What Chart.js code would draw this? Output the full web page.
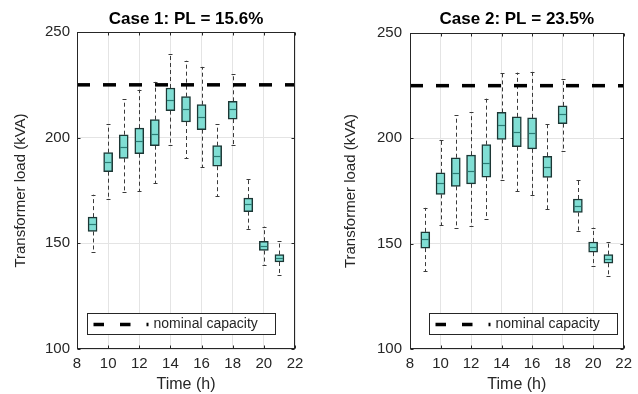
<!DOCTYPE html>
<html>
<head>
<meta charset="utf-8">
<script src="https://cdn.jsdelivr.net/npm/chart.js@4.4.1/dist/chart.umd.min.js"></script>
<style>
    html, body { margin: 0; padding: 0; background: #fff; }
    #wrap { position: relative; width: 638px; height: 394px; }
    .panel { position: absolute; top: 0; width: 319px; height: 394px; }
</style>
</head>
<body>
<div id="wrap">
    <div class="panel" style="left:0"><canvas id="case1" width="319" height="394"></canvas></div>
    <div class="panel" style="left:319px"><canvas id="case2" width="319" height="394"></canvas></div>
</div>
<script>
// hours of the day, one box per hour
const hours = [9, 10, 11, 12, 13, 14, 15, 16, 17, 18, 19, 20, 21];

// case 1 (PL = 15.6%)
const case1Min    = [146.1, 170.8, 174.1, 174.7, 178.5, 196.5, 190.3, 186.1, 172.2, 196.5, 156.9, 139.8, 135.0];
const case1Q1     = [155.6, 183.9, 190.2, 192.4, 196.2, 212.8, 207.4, 203.8, 186.5, 208.8, 165.0, 146.6, 141.2];
const case1Median = [159.3, 188.6, 195.5, 198.4, 201.9, 218.0, 213.4, 209.7, 191.4, 213.4, 168.4, 148.8, 143.0];
const case1Q3     = [162.4, 192.9, 201.4, 204.5, 208.5, 223.5, 219.4, 215.6, 196.2, 217.2, 171.4, 151.0, 144.7];
const case1Max    = [173.0, 206.3, 218.2, 222.7, 226.4, 239.5, 236.4, 233.5, 206.4, 230.0, 180.6, 157.9, 151.2];

// case 2 (PL = 23.5%)
const case2Min    = [137.0, 158.8, 157.6, 158.4, 161.9, 180.4, 174.8, 173.1, 166.4, 194.1, 155.9, 139.2, 134.6];
const case2Q1     = [147.9, 173.4, 177.2, 178.4, 181.6, 199.5, 196.0, 195.0, 181.5, 207.0, 164.8, 146.0, 140.7];
const case2Median = [152.1, 178.7, 183.5, 184.7, 188.2, 206.1, 202.9, 202.4, 186.6, 211.6, 168.0, 148.4, 142.9];
const case2Q3     = [155.6, 183.6, 190.8, 192.0, 197.0, 212.3, 210.2, 209.7, 191.5, 215.4, 171.2, 150.8, 144.8];
const case2Max    = [167.0, 199.0, 211.0, 212.3, 218.9, 231.2, 231.2, 231.7, 206.7, 228.3, 180.4, 157.6, 150.8];

const nominalCapacity = 225;
const xTickValues = [8, 10, 12, 14, 16, 18, 20, 22];
const yTickValues = [100, 150, 200, 250];

const FONT = '"Liberation Sans", Arial, Helvetica, sans-serif';
const BOX_FILL = "#80ded4";
const BOX_EDGE = "#1c3735";
const MEDIAN_COLOR = "#2a7d75";
const WHISKER_COLOR = "#3a3a3a";
const GRID_COLOR = "#e4e4e4";
const TEXT_COLOR = "#262626";

//whiskers behind the boxes, medians on top of them
var boxPlotPlugin = {
    id: "boxPlot",
    beforeDatasetsDraw: function(chart){
        let stats = chart.options.plugins.boxPlot;
        let ctx = chart.ctx;
        let xs = chart.scales.x, ys = chart.scales.y;
        ctx.save();
        ctx.strokeStyle = WHISKER_COLOR;
        ctx.lineWidth = 1;
        hours.forEach(function(h, i){
            let px = Math.round(xs.getPixelForValue(h)) + 0.5;
            ctx.setLineDash([4, 3]);
            ctx.beginPath();
            ctx.moveTo(px, ys.getPixelForValue(stats.q3[i]));
            ctx.lineTo(px, ys.getPixelForValue(stats.max[i]));
            ctx.moveTo(px, ys.getPixelForValue(stats.q1[i]));
            ctx.lineTo(px, ys.getPixelForValue(stats.min[i]));
            ctx.stroke();
            //caps
            ctx.setLineDash([]);
            ctx.beginPath();
            let top = Math.round(ys.getPixelForValue(stats.max[i])) + 0.5;
            let bot = Math.round(ys.getPixelForValue(stats.min[i])) + 0.5;
            ctx.moveTo(px - 2, top);
            ctx.lineTo(px + 2, top);
            ctx.moveTo(px - 2, bot);
            ctx.lineTo(px + 2, bot);
            ctx.stroke();
        });
        ctx.restore();
    },
    afterDatasetDraw: function(chart, args){
        if (args.index !== 0) return;
        let stats = chart.options.plugins.boxPlot;
        let ctx = chart.ctx;
        let xs = chart.scales.x, ys = chart.scales.y;
        ctx.save();
        ctx.strokeStyle = MEDIAN_COLOR;
        ctx.lineWidth = 1.2;
        hours.forEach(function(h, i){
            let px = xs.getPixelForValue(h);
            let py = Math.round(ys.getPixelForValue(stats.median[i])) + 0.5;
            ctx.beginPath();
            ctx.moveTo(px - 3.5, py);
            ctx.lineTo(px + 3.5, py);
            ctx.stroke();
        });
        ctx.restore();
    }
};

//box around the axes with small inward ticks, plus the legend box
var framePlugin = {
    id: "frame",
    afterDraw: function(chart){
        let ctx = chart.ctx;
        let a = chart.chartArea;
        let xs = chart.scales.x, ys = chart.scales.y;
        let l = Math.round(a.left) + 0.5, r = Math.round(a.right) - 0.5;
        let t = Math.round(a.top) + 0.5, b = Math.round(a.bottom) - 0.5;
        ctx.save();
        ctx.strokeStyle = "#262626";
        ctx.lineWidth = 1;
        ctx.strokeRect(l, t, r - l, b - t);
        ctx.beginPath();
        xTickValues.forEach(function(v){
            let px = Math.round(xs.getPixelForValue(v)) + 0.5;
            ctx.moveTo(px, b); ctx.lineTo(px, b - 3);
            ctx.moveTo(px, t); ctx.lineTo(px, t + 3);
        });
        yTickValues.forEach(function(v){
            let py = Math.round(ys.getPixelForValue(v)) + 0.5;
            ctx.moveTo(l, py); ctx.lineTo(l + 3, py);
            ctx.moveTo(r, py); ctx.lineTo(r - 3, py);
        });
        ctx.stroke();

        //legend
        let opts = chart.options.plugins.frame;
        let bx = Math.round(a.left + opts.legendOffset) + 0.5;
        let by = Math.round(a.bottom - 36) + 0.5;
        ctx.fillStyle = "#fff";
        ctx.fillRect(bx, by, 188, 21);
        ctx.strokeStyle = "#262626";
        ctx.strokeRect(bx, by, 188, 21);
        let ly = by + 11;
        ctx.strokeStyle = "#000";
        ctx.lineWidth = 3.5;
        ctx.setLineDash([10.5, 16]);
        ctx.beginPath();
        ctx.moveTo(bx + 6, ly);
        ctx.lineTo(bx + 61, ly);
        ctx.stroke();
        ctx.setLineDash([]);
        ctx.fillStyle = TEXT_COLOR;
        ctx.font = "14px " + FONT;
        ctx.textAlign = "left";
        ctx.textBaseline = "middle";
        ctx.fillText("nominal capacity", bx + 66, ly);
        ctx.restore();
    }
};

function buildCase(canvasId, title, stats, layout){
    let boxes = hours.map(function(h, i){
        return {x: h, y: [stats.q1[i], stats.q3[i]]};
    });
    let nominal = [
        {x: xTickValues[0], y: nominalCapacity},
        {x: xTickValues[xTickValues.length - 1], y: nominalCapacity}
    ];

    return new Chart(document.getElementById(canvasId), {
        type: "bar",
        data: {
            datasets: [{
                type: "bar",
                data: boxes,
                backgroundColor: BOX_FILL,
                borderColor: BOX_EDGE,
                borderWidth: 1.5,
                borderSkipped: false,
                barThickness: 9,
                order: 1,
            }, {
                type: "line",
                data: nominal,
                borderColor: "#000",
                borderWidth: 3.5,
                borderDash: [13, 13],
                pointRadius: 0,
                fill: false,
                order: 0,
            }]
        },
        options: {
            responsive: false,
            animation: false,
            devicePixelRatio: 1,
            layout: {padding: {left: 0, right: layout.padRight, top: 0, bottom: 0}},
            plugins: {
                legend: {display: false},
                tooltip: {enabled: false},
                title: {
                    display: true,
                    text: title,
                    fullSize: false,
                    color: "#000",
                    font: {family: FONT, size: 17, weight: "bold"},
                    padding: {top: 9, bottom: 2.6 + layout.topShift},
                },
                boxPlot: stats,
                frame: {legendOffset: layout.legendOffset},
            },
            scales: {
                x: {
                    type: "linear",
                    min: 8,
                    max: 22,
                    offset: false,
                    afterBuildTicks: function(scale){
                        scale.ticks = xTickValues.map(function(v){ return {value: v}; });
                    },
                    afterFit: function(scale){ scale.height = 45; },
                    grid: {color: GRID_COLOR, drawTicks: false, offset: false},
                    border: {display: false},
                    ticks: {padding: 6, color: TEXT_COLOR, font: {family: FONT, size: 15}},
                    title: {
                        display: true,
                        text: "Time (h)",
                        color: TEXT_COLOR,
                        font: {family: FONT, size: 16},
                        padding: {top: 0, bottom: 0},
                    }
                },
                y: {
                    min: 100,
                    max: 250,
                    afterBuildTicks: function(scale){
                        scale.ticks = yTickValues.map(function(v){ return {value: v}; });
                    },
                    afterFit: function(scale){ scale.width = layout.yWidth; },
                    grid: {color: GRID_COLOR, drawTicks: false},
                    border: {display: false},
                    ticks: {padding: layout.tickPad, color: TEXT_COLOR, font: {family: FONT, size: 15}},
                    title: {
                        display: true,
                        text: "Transformer load (kVA)",
                        color: TEXT_COLOR,
                        font: {family: FONT, size: 15},
                        padding: {top: layout.titlePad, bottom: 0},
                    }
                }
            }
        },
        plugins: [boxPlotPlugin, framePlugin]
    });
}

buildCase("case1", "Case 1: PL = 15.6%", {
    min: case1Min, q1: case1Q1, median: case1Median, q3: case1Q3, max: case1Max
}, {padRight: 24, yWidth: 77, tickPad: 7, titlePad: 12, legendOffset: 10, topShift: 0});

buildCase("case2", "Case 2: PL = 23.5%", {
    min: case2Min, q1: case2Q1, median: case2Median, q3: case2Q3, max: case2Max
}, {padRight: 9, yWidth: 91, tickPad: 8, titlePad: 23, legendOffset: 19, topShift: 1});
</script>
</body>
</html>
